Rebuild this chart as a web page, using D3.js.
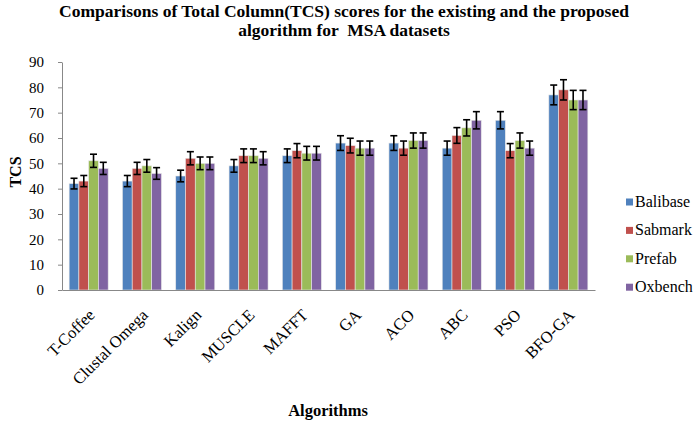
<!DOCTYPE html>
<html><head><meta charset="utf-8">
<script src="https://cdn.jsdelivr.net/npm/d3@7/dist/d3.min.js"></script>
<style>body{margin:0;background:#fff}svg{display:block}text{font-family:"Liberation Serif","Times New Roman",serif}</style>
</head><body>
<svg id="c" width="697" height="426" font-family="Liberation Serif, serif"></svg>
<script>
const categories = ["T-Coffee","Clustal Omega","Kalign","MUSCLE","MAFFT","GA","ACO","ABC","PSO","BFO-GA"];
const seriesNames = ["Balibase","Sabmark","Prefab","Oxbench"];
const balibase = [42,43,45,49,53,58,58,56,67,77];
const sabmark  = [43,48,52,53,55,57,56,61,55,79];
const prefab   = [51,49,50,53,54,56,59,64,59,75];
const oxbench  = [48,46,50,52,54,56,59,67,56,75];
const balibaseErr = [2.1,2.2,2.3,2.5,2.7,2.9,2.9,2.8,3.4,3.9];
const sabmarkErr  = [2.2,2.4,2.6,2.7,2.8,2.9,2.8,3.1,2.8,4.0];
const prefabErr   = [2.6,2.5,2.5,2.7,2.7,2.8,3.0,3.2,3.0,3.8];
const oxbenchErr  = [2.4,2.3,2.5,2.6,2.7,2.8,3.0,3.4,2.8,3.8];
const yTicks = [0,10,20,30,40,50,60,70,80,90];
const colors = ["#4F81BD","#C0504D","#9BBB59","#8064A2"];

const values = [balibase, sabmark, prefab, oxbench];
const errs = [balibaseErr, sabmarkErr, prefabErr, oxbenchErr];
const FONT = '"Liberation Serif","Times New Roman",serif';

const svg = d3.select("#c");
const mLeft = 62, mRight = 595, mTop = 62, mBottom = 290;

const x0 = d3.scaleBand().domain(categories).range([mLeft, mRight]).paddingInner(0.268).paddingOuter(0.134);
const x1 = d3.scaleBand().domain(seriesNames).range([0, x0.bandwidth()]);
const y = d3.scaleLinear().domain([0, 90]).range([mBottom, mTop]);

// y axis
const yAxis = svg.append("g").attr("transform", `translate(${mLeft},0)`)
  .call(d3.axisLeft(y).tickValues(yTicks).tickSize(4).tickSizeOuter(0));
yAxis.attr("font-family", null);
yAxis.select(".domain").attr("stroke", "#888");
yAxis.selectAll(".tick line").attr("stroke", "#888");
yAxis.selectAll(".tick text").attr("font-size", 15).attr("fill", "#000").attr("x", -18)
  .style("font-family", FONT);

// bars
const groups = svg.append("g").selectAll("g").data(categories).join("g")
  .attr("transform", d => `translate(${x0(d)},0)`);
seriesNames.forEach((s, si) => {
  groups.append("rect")
    .attr("x", (d) => x1(s))
    .attr("width", x1.bandwidth())
    .attr("y", (d, i) => y(values[si][i]))
    .attr("height", (d, i) => mBottom - y(values[si][i]))
    .attr("fill", colors[si])
    .attr("stroke", "#e8e8e8").attr("stroke-width", 0.6);
});
// error bars
seriesNames.forEach((s, si) => {
  groups.each(function(d, i) {
    const g = d3.select(this);
    const cx = x1(s) + x1.bandwidth() / 2;
    const v = values[si][i], e = errs[si][i];
    const yt = y(v + e), yb = y(v - e);
    g.append("line").attr("x1", cx).attr("x2", cx).attr("y1", yt).attr("y2", yb).attr("stroke", "#000").attr("stroke-width", 1.6);
    g.append("line").attr("x1", cx - 3.5).attr("x2", cx + 3.5).attr("y1", yt).attr("y2", yt).attr("stroke", "#000").attr("stroke-width", 1.6);
    g.append("line").attr("x1", cx - 3.5).attr("x2", cx + 3.5).attr("y1", yb).attr("y2", yb).attr("stroke", "#000").attr("stroke-width", 1.6);
  });
});

// x axis
const xAxis = svg.append("g").attr("transform", `translate(0,${mBottom})`)
  .call(d3.axisBottom(x0).tickSize(0).tickSizeOuter(0));
xAxis.attr("font-family", null);
xAxis.select(".domain").attr("stroke", "#888").attr("stroke-width", 1.2);
xAxis.selectAll(".tick text").attr("font-size", 16.5).attr("fill", "#000")
  .style("font-family", FONT)
  .attr("text-anchor", "end").attr("dy", 0).attr("y", 0)
  .attr("transform", "translate(7,26) rotate(-45)");

// title
const title = svg.append("text").attr("x", 344).attr("y", 17).attr("text-anchor", "middle")
  .attr("font-size", 17.5).attr("font-weight", "bold").style("font-family", FONT);
title.append("tspan").attr("x", 344).text("Comparisons of Total Column(TCS) scores for the existing and the proposed");
title.append("tspan").attr("x", 344).attr("dy", 19).style("white-space", "pre").text("algorithm for \u00a0MSA datasets");

svg.append("text").attr("transform", "translate(21,172) rotate(-90)").attr("text-anchor", "middle")
  .attr("font-size", 16).attr("font-weight", "bold").style("font-family", FONT).text("TCS");
svg.append("text").attr("x", 328).attr("y", 416).attr("text-anchor", "middle")
  .attr("font-size", 16.5).attr("font-weight", "bold").style("font-family", FONT).text("Algorithms");

// legend
const legend = svg.append("g").selectAll("g").data(seriesNames).join("g")
  .attr("transform", (d, i) => `translate(626,${202 + i * 28.4})`);
legend.append("rect").attr("x", 0).attr("y", -3.5).attr("width", 7).attr("height", 7).attr("fill", (d, i) => colors[i]);
legend.append("text").attr("x", 9).attr("y", 5).attr("font-size", 16).style("font-family", FONT).text(d => d);
</script>
</body></html>
